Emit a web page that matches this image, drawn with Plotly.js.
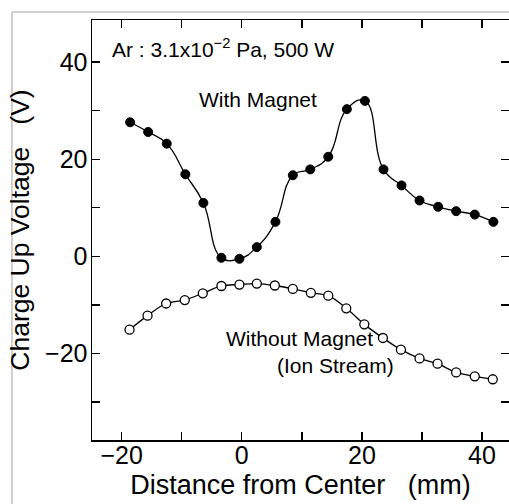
<!DOCTYPE html>
<html>
<head>
<meta charset="utf-8">
<script src="https://cdn.plot.ly/plotly-3.0.1.min.js"></script>
<style>
  html, body { margin: 0; padding: 0; background: #fff; }
  #chart { width: 509px; height: 504px; }
</style>
</head>
<body>
<div id="chart"></div>
<script>
// Distance from center (mm)
const xWith = [-18.6, -15.6, -12.5, -9.4, -6.4, -3.4, -0.4, 2.5, 5.6, 8.5, 11.4, 14.4, 17.5, 20.5, 23.6, 26.6, 29.6, 32.7, 35.7, 38.8, 41.9];
// Charge up voltage with magnet (V)
const yWith = [27.6, 25.6, 23.2, 16.9, 11.0, -0.3, -0.5, 1.9, 7.1, 16.7, 17.9, 20.5, 30.3, 32.0, 17.9, 14.6, 11.5, 10.2, 9.3, 8.6, 7.1];
const xWithout = [-18.7, -15.7, -12.6, -9.5, -6.5, -3.4, -0.4, 2.5, 5.5, 8.5, 11.5, 14.4, 17.4, 20.4, 23.5, 26.5, 29.6, 32.6, 35.7, 38.8, 41.8];
// Charge up voltage without magnet (ion stream) (V)
const yWithout = [-15.1, -12.2, -9.7, -9.0, -7.6, -6.1, -5.8, -5.6, -6.0, -6.7, -7.5, -8.1, -10.7, -14.0, -16.8, -19.2, -21.0, -22.1, -23.9, -24.7, -25.3];

const xTickVals = [-20, -10, 0, 10, 20, 30, 40];
const xTickText = ["\u221220", "", "0", "", "20", "", "40"];
const yTickVals = [-30, -20, -10, 0, 10, 20, 30, 40];
const yTickText = ["", "\u221220", "", "0", "", "20", "", "40"];

const font = "Liberation Sans, Arial, Helvetica, sans-serif";

const traces = [
  {
    x: xWith, y: yWith, type: "scatter", mode: "lines+markers",
    line: { color: "#000", width: 1.3, shape: "spline", smoothing: 1.3 },
    marker: { color: "#000", size: 9, line: { color: "#000", width: 1 } },
    showlegend: false, hoverinfo: "skip"
  },
  {
    x: xWithout, y: yWithout, type: "scatter", mode: "lines+markers",
    line: { color: "#000", width: 1.3, shape: "spline", smoothing: 1 },
    marker: { color: "#fff", size: 9, line: { color: "#000", width: 1.3 } },
    showlegend: false, hoverinfo: "skip"
  }
];

const axisCommon = {
  showgrid: false, zeroline: false,
  showline: true, linecolor: "#000", linewidth: 1.5, mirror: "ticks",
  ticks: "inside", ticklen: 8, tickwidth: 1.3, tickcolor: "#000",
  tickmode: "array",
  tickfont: { family: font, size: 25, color: "#000" }
};

const layout = {
  width: 509, height: 504,
  margin: { l: 92, r: 0, t: 20, b: 64 },
  paper_bgcolor: "#fff", plot_bgcolor: "#fff",
  font: { family: font, color: "#000" },
  xaxis: Object.assign({}, axisCommon, {
    range: [-24.95, 44.5],
    tickvals: xTickVals, ticktext: xTickText,
    ticklabelstandoff: -8,
    title: { text: "Distance from Center \u00a0\u00a0(mm)", font: { family: font, size: 27, color: "#000" }, standoff: 7 }
  }),
  yaxis: Object.assign({}, axisCommon, {
    range: [-37.8, 48.65],
    tickvals: yTickVals, ticktext: yTickText,
    ticklabelstandoff: -2,
    title: { text: "Charge Up Voltage \u00a0\u00a0(V)", font: { family: font, size: 26.5, color: "#000" }, standoff: 8 }
  }),
  annotations: [
    { x: -21.9, y: 42.8, xref: "x", yref: "y", xanchor: "left", yanchor: "middle", showarrow: false,
      text: "Ar : 3.1x10<sup>\u22122</sup> Pa, 500 W", font: { family: font, size: 21, color: "#000" } },
    { x: 2.7, y: 32.3, xref: "x", yref: "y", xanchor: "center", yanchor: "middle", showarrow: false,
      text: "With Magnet", font: { family: font, size: 21, color: "#000" } },
    { x: -2.9, y: -16.9, xref: "x", yref: "y", xanchor: "left", yanchor: "middle", showarrow: false,
      text: "Without Magnet", font: { family: font, size: 21, color: "#000" } },
    { x: 5.45, y: -22.4, xref: "x", yref: "y", xanchor: "left", yanchor: "middle", showarrow: false,
      text: "(Ion Stream)", font: { family: font, size: 21, color: "#000" } }
  ],
  shapes: [
    { type: "line", xref: "paper", yref: "paper", x0: -0.192, x1: -0.192, y0: 1.019, y1: -0.2, line: { color: "#c0c0c0", width: 1.5 } },
    { type: "line", xref: "paper", yref: "paper", x0: -0.192, x1: 1.01, y0: 1.019, y1: 1.019, line: { color: "#c0c0c0", width: 1.5 } }
  ]
};

Plotly.newPlot("chart", traces, layout, { displayModeBar: false, staticPlot: true });
</script>
</body>
</html>
